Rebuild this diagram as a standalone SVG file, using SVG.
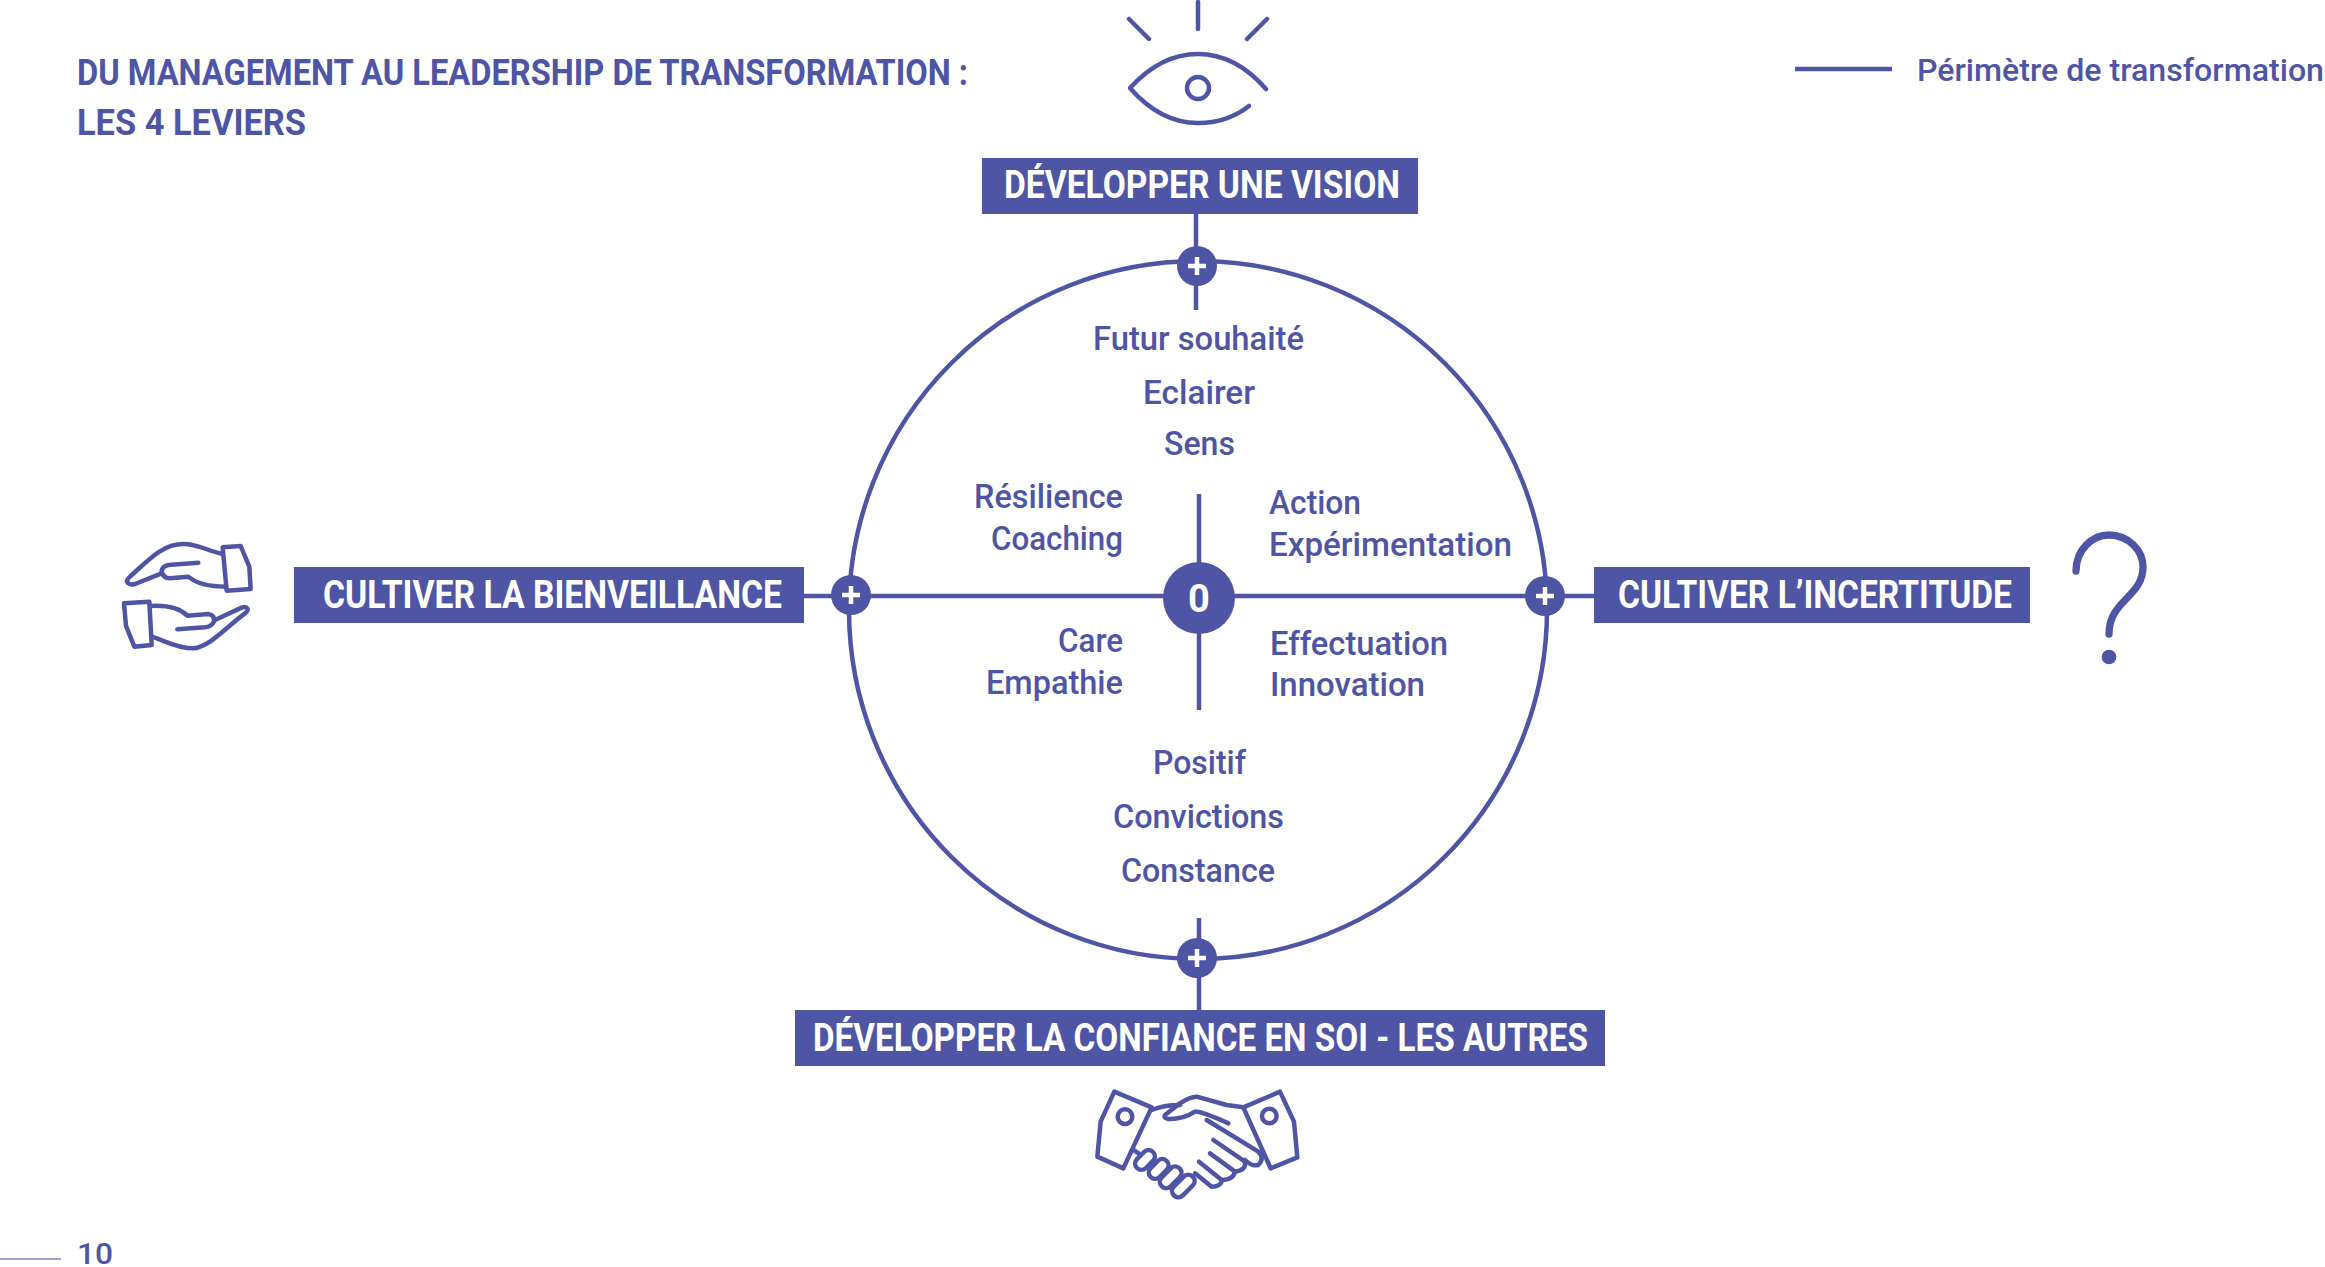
<svg xmlns="http://www.w3.org/2000/svg" width="2325" height="1267" viewBox="0 0 2325 1267">
<style>
text{font-family:"Roboto","Liberation Sans",sans-serif;fill:#4e55a5}
.t{font-size:37px;font-weight:700}
.b{font-size:38px;font-weight:700;fill:#fff}
.l{font-size:33px;font-weight:500}
.pl{font-size:32px;font-weight:500}
.box{fill:#4e55a5}
.ln{stroke:#4e55a5;stroke-width:4.5;fill:none}
.dot{fill:#4e55a5}
.cross{stroke:#fff;stroke-width:4.5;fill:none}
.ic{stroke:#4e55a5;fill:none;stroke-linecap:round;stroke-linejoin:round}
</style>
<rect width="2325" height="1267" fill="#fff"/>
<g id="title">
<text class="t" x="77" y="85" textLength="891" lengthAdjust="spacingAndGlyphs">DU MANAGEMENT AU LEADERSHIP DE TRANSFORMATION :</text>
<text class="t" x="77" y="135" textLength="229" lengthAdjust="spacingAndGlyphs">LES 4 LEVIERS</text>
</g>
<g id="legend">
<line x1="1795" y1="69" x2="1892" y2="69" class="ln"/>
<text class="pl" x="1917" y="81" textLength="407" lengthAdjust="spacingAndGlyphs">Périmètre de transformation</text>
</g>
<g id="connectors">
<circle cx="1198" cy="610" r="349" class="ln"/>
<line x1="1196" y1="214" x2="1196" y2="310" class="ln"/>
<line x1="1199" y1="494" x2="1199" y2="710" class="ln"/>
<line x1="1199" y1="918" x2="1199" y2="1010" class="ln"/>
<line x1="804" y1="596" x2="1594" y2="596" class="ln"/>
</g>
<g id="node-center">
<circle cx="1199" cy="598" r="36" class="dot"/>
<text x="1199" y="612" text-anchor="middle" style="font-size:38px;font-weight:700;fill:#fff">0</text>
</g>
<g id="plus-top"><circle cx="1197" cy="266" r="20" class="dot"/><path class="cross" d="M1188 266H1206M1197 257V275"/></g>
<g id="plus-left"><circle cx="851" cy="595" r="20" class="dot"/><path class="cross" d="M842 595H860M851 586V604"/></g>
<g id="plus-right"><circle cx="1545" cy="596" r="20" class="dot"/><path class="cross" d="M1536 596H1554M1545 587V605"/></g>
<g id="plus-bottom"><circle cx="1197" cy="958" r="20" class="dot"/><path class="cross" d="M1188 958H1206M1197 949V967"/></g>
<g id="node-vision">
<rect class="box" x="982" y="158" width="436" height="56"/>
<text class="b" x="1004" y="198" textLength="396" lengthAdjust="spacingAndGlyphs">DÉVELOPPER UNE VISION</text>
<g class="ic" stroke-width="4.5">
<path d="M1198 2V29M1129 19L1149 39M1267 19L1247 39"/>
<path d="M1266 89C1245 65 1222 54 1198 54C1172 54 1150 66 1130 88C1150 111 1172 123 1198 123C1218 123 1235 117 1249 106"/>
<circle cx="1198" cy="88" r="11"/>
</g>
</g>
<g id="node-bienveillance">
<rect class="box" x="294" y="567" width="510" height="56"/>
<text class="b" x="323" y="608" textLength="459" lengthAdjust="spacingAndGlyphs">CULTIVER LA BIENVEILLANCE</text>
<g class="ic" stroke-width="13.5" transform="translate(100 520) scale(.3333)">
<path d="M368 82L422 78L448 140L452 207L380 212Z"/>
<path d="M368 102C320 92 295 72 250 72C190 72 150 115 90 170C72 185 85 198 105 192L185 160"/>
<path d="M295 128L205 135Q185 140 185 155Q190 175 210 175L265 170Q300 200 378 200"/>
<path d="M72 250L148 245L155 375L103 380L78 318Z"/>
<path d="M150 258C200 255 240 265 262 287L325 282Q345 285 342 305Q335 320 315 322L232 328"/>
<path d="M155 350C190 360 230 385 280 385C330 380 380 320 435 280C452 268 440 258 425 263L345 300"/>
</g>
</g>
<g id="node-incertitude">
<rect class="box" x="1594" y="567" width="436" height="56"/>
<text class="b" x="1618" y="608" textLength="394" lengthAdjust="spacingAndGlyphs">CULTIVER L’INCERTITUDE</text>
<g class="ic" stroke-width="7.3" transform="translate(2030 510)">
<path d="M46 61C46 40 62 25 79 25C98 25 113 40 113 57C113 87 79 90 79 124"/>
<circle cx="79" cy="147" r="3.7" fill="#4e55a5"/>
</g>
</g>
<g id="node-confiance">
<rect class="box" x="795" y="1010" width="810" height="56"/>
<text class="b" x="813" y="1051" textLength="775" lengthAdjust="spacingAndGlyphs">DÉVELOPPER LA CONFIANCE EN SOI - LES AUTRES</text>
<g class="ic" stroke-width="13.5" transform="translate(1080 1070) scale(.3333)">
<path d="M103 65L215 112L130 295L52 260L62 155Z"/>
<circle cx="135" cy="140" r="22"/>
<path d="M600 65L490 112L572 295L652 262L642 155Z"/>
<circle cx="568" cy="138" r="22"/>
<path d="M215 120Q250 105 300 105"/>
<path d="M490 112L440 105L350 80Q330 80 300 100L255 135Q250 145 265 147Q310 148 345 125Q360 122 445 160"/>
<path d="M380 150L535 245Q555 265 535 285Q515 290 495 270"/>
<path d="M400 210L495 275Q500 300 465 305L390 250"/>
<path d="M465 305Q460 330 425 330L357 275"/>
<path d="M425 335Q420 350 395 350L345 310"/>
<path d="M160 240L178 252"/>
<g fill="#fff">
<rect x="-34" y="-19" width="68" height="38" rx="19" transform="translate(195 270) rotate(-45)"/>
<rect x="-34" y="-19" width="68" height="38" rx="19" transform="translate(236 297) rotate(-45)"/>
<rect x="-38" y="-19" width="76" height="38" rx="19" transform="translate(272 322) rotate(-45)"/>
<rect x="-40" y="-19" width="80" height="38" rx="19" transform="translate(310 348) rotate(-45)"/>
</g>
</g>
</g>
<g id="labels">
<text class="l" x="1093" y="350" textLength="211" lengthAdjust="spacingAndGlyphs">Futur souhaité</text>
<text class="l" x="1143" y="404" textLength="112" lengthAdjust="spacingAndGlyphs">Eclairer</text>
<text class="l" x="1164" y="455" textLength="71" lengthAdjust="spacingAndGlyphs">Sens</text>
<text class="l" x="974" y="508" textLength="149" lengthAdjust="spacingAndGlyphs">Résilience</text>
<text class="l" x="991" y="550" textLength="132" lengthAdjust="spacingAndGlyphs">Coaching</text>
<text class="l" x="1269" y="514" textLength="92" lengthAdjust="spacingAndGlyphs">Action</text>
<text class="l" x="1269" y="556" textLength="243" lengthAdjust="spacingAndGlyphs">Expérimentation</text>
<text class="l" x="1058" y="652" textLength="65" lengthAdjust="spacingAndGlyphs">Care</text>
<text class="l" x="986" y="694" textLength="137" lengthAdjust="spacingAndGlyphs">Empathie</text>
<text class="l" x="1270" y="655" textLength="178" lengthAdjust="spacingAndGlyphs">Effectuation</text>
<text class="l" x="1270" y="696" textLength="155" lengthAdjust="spacingAndGlyphs">Innovation</text>
<text class="l" x="1153" y="774" textLength="93" lengthAdjust="spacingAndGlyphs">Positif</text>
<text class="l" x="1113" y="828" textLength="171" lengthAdjust="spacingAndGlyphs">Convictions</text>
<text class="l" x="1121" y="882" textLength="154" lengthAdjust="spacingAndGlyphs">Constance</text>
</g>
<g id="page-number">
<line x1="0" y1="1259" x2="61" y2="1259" stroke="#9ca0cc" stroke-width="2"/>
<text x="77" y="1264" style="font-size:30px;font-weight:500" textLength="36" lengthAdjust="spacingAndGlyphs">10</text>
</g>
</svg>
